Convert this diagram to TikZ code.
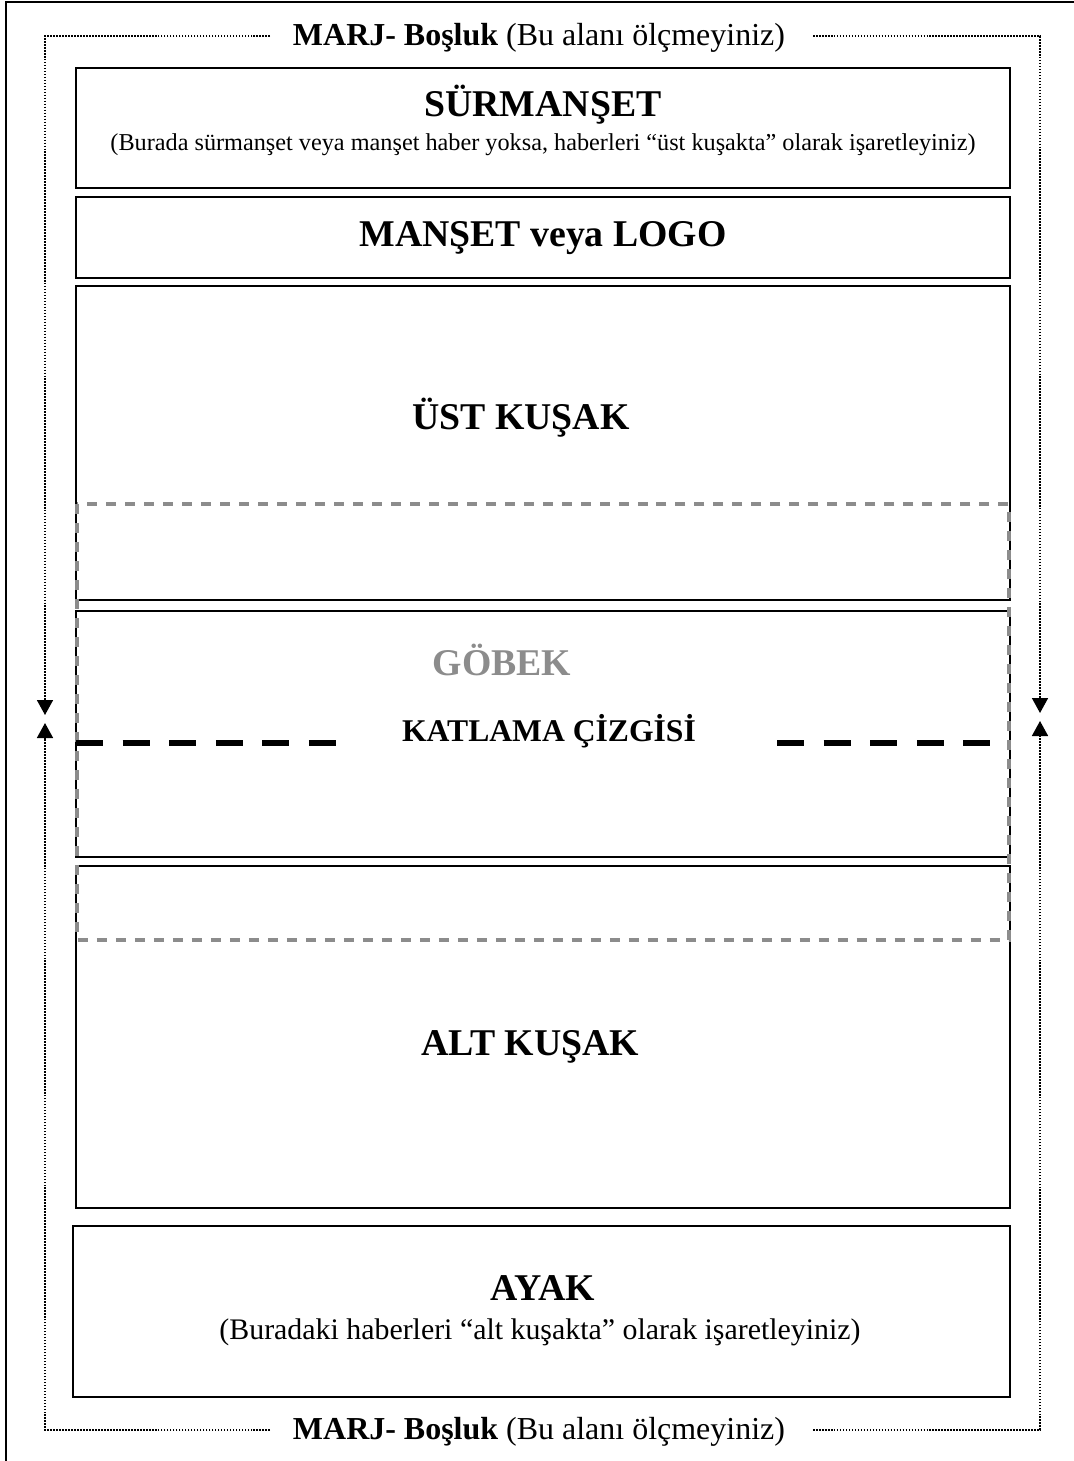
\documentclass[tikz,border=0pt]{standalone}
\usepackage{fontspec}
\setmainfont{Liberation Serif}
\usetikzlibrary{arrows.meta}
\begin{document}
\begin{tikzpicture}[x=0.02cm,y=-0.02cm,
  kutu/.style={draw=black,line width=0.8pt},
  marj/.style={line width=0.9pt,dash pattern=on 0.9pt off 0.8pt},
  marjok/.style={marj,-{Triangle[width=0.32cm,length=0.3cm]}},
  baslik/.style={font=\fontsize{21.5}{25}\selectfont\bfseries},
  aciklama/.style={font=\fontsize{13.8}{16}\selectfont},
  marjyazi/.style={font=\fontsize{18.2}{21}\selectfont},
  gri/.style={draw=black!45,line width=2pt,dash pattern=on 0.2cm off 0.18cm},
  katlama/.style={line width=3.2pt,dash pattern=on 0.54cm off 0.392cm}]
\useasboundingbox (0,0) rectangle (1074,1461);
\clip (0,0) rectangle (1074,1461);
\draw[line width=0.9pt] (6,1500) -- (6,2) -- (1100,2);
\coordinate (solust) at (45,36);
\coordinate (solalt) at (45,1430);
\coordinate (sagust) at (1040,36);
\coordinate (sagalt) at (1040,1430);
\coordinate (ustsoluc) at (270,36);
\coordinate (ustsaguc) at (813,36);
\coordinate (altsoluc) at (270,1430);
\coordinate (altsaguc) at (813,1430);
\node[marjyazi] (marjust) at (539,38) {\textbf{MARJ- Boşluk} (Bu alanı ölçmeyiniz)};
\node[marjyazi] (marjalt) at (539,1432) {\textbf{MARJ- Boşluk} (Bu alanı ölçmeyiniz)};
\draw[marjok] (ustsoluc) -- (solust) -- (45,715);
\draw[marjok] (altsoluc) -- (solalt) -- (45,723);
\draw[marjok] (ustsaguc) -- (sagust) -- (1040,713);
\draw[marjok] (altsaguc) -- (sagalt) -- (1040,721);
\draw[kutu] (76,68) rectangle (1010,188);
\draw[kutu] (76,197) rectangle (1010,278);
\draw[kutu] (76,286) rectangle (1010,600);
\draw[kutu] (76,611) rectangle (1010,857);
\draw[kutu] (76,866) rectangle (1010,1208);
\draw[kutu] (73,1226) rectangle (1010,1397);
\draw[gri] (77,504) rectangle (1009,940);
\node[baslik] (surmanset) at (543,105) {SÜRMANŞET};
\node[aciklama] (surmansetnot) at (543,145) {(Burada sürmanşet veya manşet haber yoksa, haberleri “üst kuşakta” olarak işaretleyiniz)};
\node[baslik] (manset) at (543,238) {MANŞET veya LOGO};
\node[baslik] (ustkusak) at (521,418) {ÜST KUŞAK};
\node[baslik,text=black!45] (gobek) at (502,660) {GÖBEK};
\node[font=\fontsize{18}{21}\selectfont\bfseries] (katlamacizgi) at (549,731) {KATLAMA ÇİZGİSİ};
\draw[katlama] (76,743) -- (336,743);
\draw[katlama] (777,743) -- (991,743);
\node[baslik] (altkusak) at (530,1047) {ALT KUŞAK};
\node[baslik] (ayak) at (543,1288) {AYAK};
\node[font=\fontsize{17}{20}\selectfont] (ayaknot) at (540,1332) {(Buradaki haberleri “alt kuşakta” olarak işaretleyiniz)};
\end{tikzpicture}
\end{document}
